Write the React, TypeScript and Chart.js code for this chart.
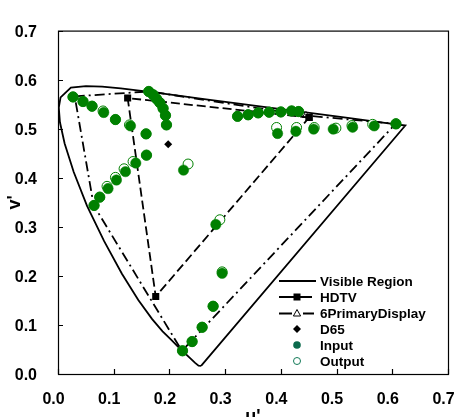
import { useEffect, useRef } from 'react';
import { Chart, registerables } from 'chart.js';

Chart.register(...registerables);

// CIE 1976 u'v' spectral locus, 380 nm .. 700 nm, closed by the purple line
const locusU = [0.2568, 0.2522, 0.2461, 0.2347, 0.2161, 0.2029, 0.1877, 0.169, 0.1441, 0.1147, 0.0828, 0.0521, 0.0282, 0.0119, 0.0035, 0.0014, 0.0046, 0.0231, 0.0501, 0.0792, 0.1127, 0.1531, 0.2026, 0.2623, 0.3315, 0.4035, 0.5203, 0.583, 0.6234, 0.2568];
const locusV = [0.0165, 0.0169, 0.0226, 0.035, 0.0549, 0.0702, 0.0871, 0.1119, 0.151, 0.2044, 0.2708, 0.3427, 0.4117, 0.4698, 0.5131, 0.5432, 0.5638, 0.5837, 0.5868, 0.5856, 0.5821, 0.5766, 0.5694, 0.5604, 0.5501, 0.5393, 0.5219, 0.5125, 0.5065, 0.0165];

// HDTV (Rec.709) primaries R, G, B
const hdtvU = [0.4507, 0.125, 0.1754, 0.4507];
const hdtvV = [0.5229, 0.5625, 0.1579, 0.5229];

// six-primary display gamut
const sixU = [0.03, 0.164, 0.445, 0.606, 0.2225, 0.064, 0.03];
const sixV = [0.566, 0.576, 0.527, 0.51, 0.047, 0.344, 0.566];

// white point
const d65U = [0.1978];
const d65V = [0.4683];

// input colours
const inputU = [0.0269, 0.0449, 0.0611, 0.0821, 0.1031, 0.1301, 0.1581, 0.1629, 0.1707, 0.1768, 0.1827, 0.1886, 0.1929, 0.1947, 0.0647, 0.0749, 0.0898, 0.1049, 0.1211, 0.1396, 0.1588, 0.2253, 0.2235, 0.2407, 0.2587, 0.2784, 0.2946, 0.2833, 0.3223, 0.3413, 0.3593, 0.379, 0.4, 0.4193, 0.4318, 0.3941, 0.427, 0.4588, 0.494, 0.5288, 0.5676, 0.6066];
const inputV = [0.5648, 0.5555, 0.5459, 0.5331, 0.5187, 0.5058, 0.4895, 0.5759, 0.5693, 0.5609, 0.5531, 0.5414, 0.5272, 0.5078, 0.3436, 0.3605, 0.378, 0.3955, 0.4125, 0.43, 0.4461, 0.4156, 0.0473, 0.0661, 0.0953, 0.1381, 0.2054, 0.3047, 0.5253, 0.5284, 0.5323, 0.5337, 0.5342, 0.5362, 0.535, 0.4903, 0.4947, 0.4992, 0.4992, 0.5031, 0.5058, 0.5097];

// reproduced (output) colours
const outputU = [0.0269, 0.0449, 0.0611, 0.0808, 0.1031, 0.1283, 0.1581, 0.1629, 0.1707, 0.1768, 0.1827, 0.1886, 0.1929, 0.1947, 0.0647, 0.0749, 0.088, 0.1031, 0.1186, 0.1347, 0.1588, 0.2335, 0.2235, 0.2407, 0.2587, 0.2784, 0.2946, 0.2905, 0.3223, 0.3413, 0.3593, 0.379, 0.4, 0.4193, 0.4318, 0.3923, 0.4282, 0.4599, 0.4988, 0.5276, 0.5648, 0.6066];
const outputV = [0.5648, 0.5555, 0.5459, 0.5362, 0.5187, 0.5078, 0.4895, 0.5759, 0.5693, 0.5609, 0.5531, 0.5414, 0.5272, 0.5078, 0.3436, 0.3605, 0.3825, 0.4008, 0.4183, 0.4331, 0.4461, 0.428, 0.0473, 0.0661, 0.0953, 0.1381, 0.2082, 0.3144, 0.5253, 0.5284, 0.5323, 0.5337, 0.5342, 0.5362, 0.535, 0.5025, 0.5025, 0.5025, 0.5012, 0.5064, 0.5089, 0.5103];

const legendLabels = ['Visible Region', 'HDTV', '6PrimaryDisplay', 'D65', 'Input', 'Output'];

const FONT = "'Liberation Sans', Arial, sans-serif";
const GREEN = '#008000';

const pts = (us: number[], vs: number[]) => us.map((u, i) => ({ x: u, y: vs[i] }));

// box around the plot area plus short inward tick marks
const framePlugin = {
  id: 'frame',
  afterDatasetsDraw(chart: any) {
    const { ctx, chartArea: a, scales } = chart;
    ctx.save();
    ctx.strokeStyle = '#000';
    ctx.lineWidth = 1.2;
    ctx.setLineDash([]);
    ctx.strokeRect(a.left + 0.5, a.top + 0.5, a.right - a.left, a.bottom - a.top);
    ctx.beginPath();
    scales.x.ticks.forEach((t: any) => {
      const px = Math.round(scales.x.getPixelForValue(t.value)) + 0.5;
      ctx.moveTo(px, a.bottom);
      ctx.lineTo(px, a.bottom - 5);
    });
    scales.y.ticks.forEach((t: any) => {
      const py = Math.round(scales.y.getPixelForValue(t.value)) + 0.5;
      ctx.moveTo(a.left, py);
      ctx.lineTo(a.left + 5, py);
    });
    ctx.stroke();
    ctx.restore();
  },
};

// legend drawn inside the lower right corner of the plot
const legendPlugin = {
  id: 'cornerLegend',
  afterDraw(chart: any) {
    const { ctx } = chart;
    const x0 = 279;
    const x1 = 314;
    const mx = 297;
    const tx = 320;
    const rows = [281, 297, 313.5, 329, 345, 361];
    ctx.save();
    ctx.strokeStyle = '#000';
    ctx.fillStyle = '#000';
    ctx.lineWidth = 1.8;

    // Visible Region
    ctx.beginPath();
    ctx.moveTo(x0, rows[0]);
    ctx.lineTo(x1 + 2, rows[0]);
    ctx.stroke();

    // HDTV
    ctx.beginPath();
    ctx.moveTo(x0, rows[1]);
    ctx.lineTo(x1 - 2, rows[1]);
    ctx.stroke();
    ctx.fillRect(mx - 3.5, rows[1] - 3.5, 7, 7);

    // 6PrimaryDisplay
    ctx.beginPath();
    ctx.moveTo(x0, rows[2]);
    ctx.lineTo(x0 + 13, rows[2]);
    ctx.moveTo(x0 + 24, rows[2]);
    ctx.lineTo(x1, rows[2]);
    ctx.stroke();
    ctx.lineWidth = 1;
    ctx.beginPath();
    ctx.moveTo(mx, rows[2] - 4);
    ctx.lineTo(mx + 3.6, rows[2] + 2.5);
    ctx.lineTo(mx - 3.6, rows[2] + 2.5);
    ctx.closePath();
    ctx.fillStyle = '#fff';
    ctx.fill();
    ctx.stroke();

    // D65
    ctx.fillStyle = '#000';
    ctx.beginPath();
    ctx.moveTo(mx, rows[3] - 4);
    ctx.lineTo(mx + 4, rows[3]);
    ctx.lineTo(mx, rows[3] + 4);
    ctx.lineTo(mx - 4, rows[3]);
    ctx.closePath();
    ctx.fill();

    // Input
    ctx.fillStyle = '#0b6a4c';
    ctx.beginPath();
    ctx.arc(mx, rows[4], 3.8, 0, Math.PI * 2);
    ctx.fill();

    // Output
    ctx.strokeStyle = '#137a58';
    ctx.lineWidth = 1;
    ctx.beginPath();
    ctx.arc(mx, rows[5], 3.5, 0, Math.PI * 2);
    ctx.stroke();

    ctx.fillStyle = '#000';
    ctx.font = `bold 13.5px ${FONT}`;
    ctx.textAlign = 'left';
    ctx.textBaseline = 'middle';
    legendLabels.forEach((label, i) => ctx.fillText(label, tx, rows[i] + 1));
    ctx.restore();
  },
};

export default function App() {
  const canvasRef = useRef<HTMLCanvasElement>(null);

  useEffect(() => {
    const canvas = canvasRef.current;
    if (!canvas) return;
    const tickFont = { family: FONT, size: 16, weight: 'bold' as const };
    const titleFont = { family: FONT, size: 18, weight: 'bold' as const };

    const chart = new Chart(canvas, {
      type: 'scatter',
      data: {
        datasets: [
          {
            label: 'D65',
            data: pts(d65U, d65V),
            pointStyle: 'rectRot',
            pointRadius: 4,
            pointBackgroundColor: '#000',
            pointBorderColor: '#000',
            pointBorderWidth: 0,
          },
          {
            label: 'Input',
            data: pts(inputU, inputV),
            pointRadius: 5.2,
            pointBackgroundColor: GREEN,
            pointBorderColor: GREEN,
            pointBorderWidth: 0.5,
          },
          {
            label: 'Output',
            data: pts(outputU, outputV),
            pointRadius: 5,
            pointBackgroundColor: '#fff',
            pointBorderColor: GREEN,
            pointBorderWidth: 1,
          },
          {
            label: 'HDTV',
            data: pts(hdtvU, hdtvV),
            showLine: true,
            borderColor: '#000',
            borderWidth: 1.8,
            borderDash: [9, 4],
            pointStyle: 'rect',
            pointRadius: 5,
            pointBackgroundColor: '#000',
            pointBorderColor: '#000',
            pointBorderWidth: 0,
          },
          {
            label: '6PrimaryDisplay',
            data: pts(sixU, sixV),
            showLine: true,
            borderColor: '#000',
            borderWidth: 1.8,
            borderDash: [10, 4, 2, 4],
            pointStyle: 'triangle',
            pointRadius: 4,
            pointBackgroundColor: '#fff',
            pointBorderColor: '#000',
            pointBorderWidth: 1,
          },
          {
            label: 'Visible Region',
            data: pts(locusU, locusV),
            showLine: true,
            borderColor: '#000',
            borderWidth: 1.8,
            pointRadius: 0,
          },
        ],
      },
      options: {
        responsive: false,
        animation: false,
        devicePixelRatio: 1,
        events: [],
        layout: { padding: { left: 0, right: 28, top: 15, bottom: 0 } },
        plugins: { legend: { display: false }, tooltip: { enabled: false } },
        elements: { line: { tension: 0 } },
        scales: {
          x: {
            type: 'linear',
            min: 0,
            max: 0.7,
            grid: { display: false, drawTicks: false },
            border: { display: false },
            ticks: {
              stepSize: 0.1,
              autoSkip: false,
              maxRotation: 0,
              padding: 16,
              labelOffset: -4.5,
              color: '#000',
              font: tickFont,
              callback: (v: any) => Number(v).toFixed(1),
            },
            title: { display: true, text: "u'", color: '#000', font: titleFont, padding: { top: 0, bottom: 12 } },
            afterFit: (scale: any) => {
              scale.height = 66;
            },
          },
          y: {
            type: 'linear',
            min: 0,
            max: 0.7,
            grid: { display: false, drawTicks: false },
            border: { display: false },
            ticks: {
              stepSize: 0.1,
              autoSkip: false,
              padding: 21,
              labelOffset: 2,
              color: '#000',
              font: tickFont,
              callback: (v: any) => Number(v).toFixed(1),
            },
            title: { display: true, text: "v'", color: '#000', font: titleFont, padding: { top: 4, bottom: 0 } },
            afterFit: (scale: any) => {
              scale.width = 58;
            },
          },
        },
      },
      plugins: [framePlugin, legendPlugin],
    });

    return () => chart.destroy();
  }, []);

  return (
    <div
      style={{
        position: 'fixed',
        left: 0,
        top: 0,
        width: 456,
        height: 417,
        overflow: 'hidden',
        background: '#fff',
      }}
    >
      <canvas ref={canvasRef} width={476} height={440} style={{ display: 'block' }} />
    </div>
  );
}
